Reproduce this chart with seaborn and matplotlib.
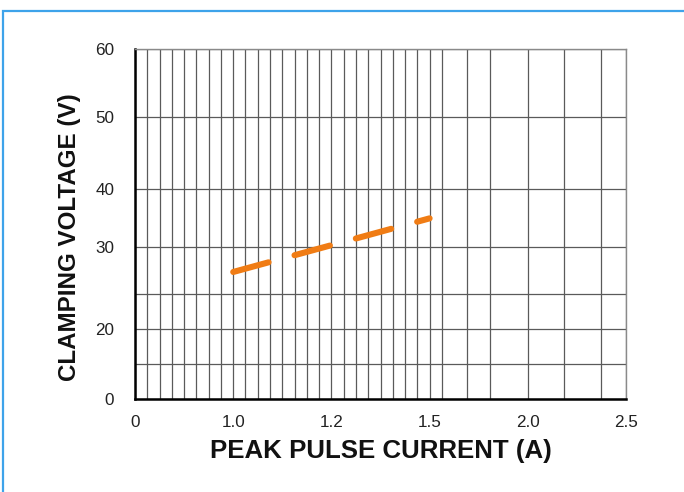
import numpy as np
import pandas as pd
import matplotlib
matplotlib.use("Agg")
import matplotlib.pyplot as plt
import seaborn as sns
from matplotlib.patches import Rectangle


# -----------------------------
# Data
# -----------------------------
current = [1.0, 1.5]          # peak pulse current (A)
voltage = [27.0, 35.0]        # clamping voltage (V)

x_tick_vals = [0, 1.0, 1.2, 1.5, 2.0, 2.5]
x_tick_labels = ["0", "1.0", "1.2", "1.5", "2.0", "2.5"]
y_tick_vals = [0, 20, 30, 40, 50, 60]
y_tick_labels = ["0", "20", "30", "40", "50", "60"]


# -----------------------------
# Axis layout (non-uniform printed scale)
# -----------------------------
x_pos = [0, 1, 2, 3, 4, 5]
y_pos = [0, 0.2, 0.434, 0.6, 0.806, 1.0]

x_grid_pos = [k * 0.125 for k in range(1, 24)] + [3.123, 3.378, 3.62, 4.0, 4.37, 4.75]
y_grid_pos = [0.101, 0.301]


def x_fwd(v):
    return np.interp(v, x_tick_vals, x_pos)


def x_inv(p):
    return np.interp(p, x_pos, x_tick_vals)


def y_fwd(v):
    return np.interp(v, y_tick_vals, y_pos)


def y_inv(p):
    return np.interp(p, y_pos, y_tick_vals)


# -----------------------------
# Plot
# -----------------------------
sns.set_theme(style="white")
plt.rcParams["font.family"] = ["Liberation Sans", "DejaVu Sans"]

fig = plt.figure(figsize=(6.84, 4.92), dpi=100)
ax = fig.add_axes([0.1974, 0.1884, 0.7178, 0.7114])

ax.set_xscale("function", functions=(x_fwd, x_inv))
ax.set_yscale("function", functions=(y_fwd, y_inv))

df = pd.DataFrame({"current": current, "voltage": voltage})
sns.lineplot(data=df, x="current", y="voltage", ax=ax,
             color="#f07c14", linewidth=4.4, zorder=5)
line = ax.get_lines()[-1]
line.set_dashes((6.0, 4.4))
line.set_dash_capstyle("round")
line.set_solid_capstyle("round")

ax.set_xlim(0, 2.5)
ax.set_ylim(0, 60)

ax.set_xticks(x_tick_vals)
ax.set_xticklabels(x_tick_labels)
ax.set_yticks(y_tick_vals)
ax.set_yticklabels(y_tick_labels)
ax.set_xticks(x_inv(np.array(x_grid_pos)), minor=True)
ax.set_yticks(y_inv(np.array(y_grid_pos)), minor=True)

ax.grid(which="both", color="#5a5a5a", linewidth=0.9)
ax.tick_params(which="both", length=0)
ax.tick_params(axis="x", labelsize=12.3, pad=11, colors="#222222")
ax.tick_params(axis="y", labelsize=12.3, pad=15, colors="#222222")

for side in ["left", "bottom"]:
    ax.spines[side].set_color("black")
    ax.spines[side].set_linewidth(1.8)
for side in ["top", "right"]:
    ax.spines[side].set_color("#8a8a8a")
    ax.spines[side].set_linewidth(1.0)

ax.set_xlabel("PEAK PULSE CURRENT (A)", fontsize=18.6, fontweight="bold", color="#111111")
ax.set_ylabel("CLAMPING VOLTAGE (V)", fontsize=17.4, fontweight="bold", color="#111111")
ax.xaxis.set_label_coords(0.5, -0.113)
ax.yaxis.set_label_coords(-0.111, 0.464)

# blue frame around the figure
fig.patches.append(Rectangle((3 / 684, -0.05), 1.1, 0.9776 + 0.05,
                             transform=fig.transFigure, fill=False,
                             edgecolor="#3ea3ea", linewidth=1.6))

plt.savefig("out.png", dpi=100)
